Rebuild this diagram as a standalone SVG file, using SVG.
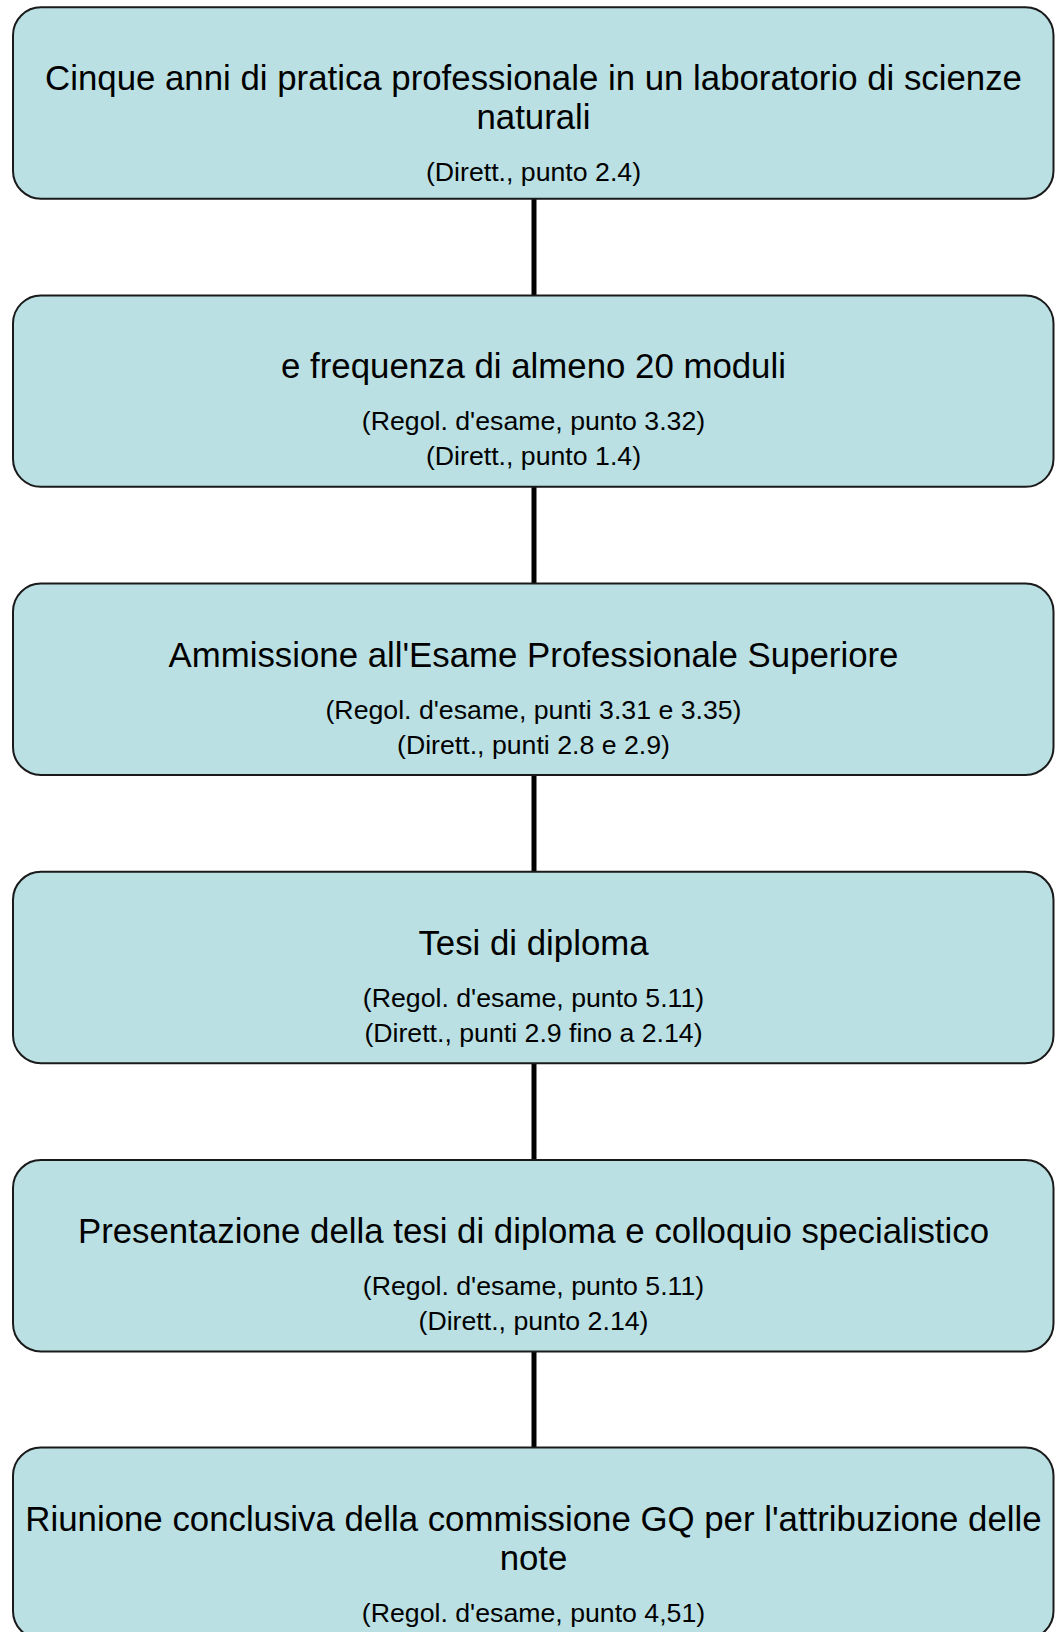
<svg xmlns="http://www.w3.org/2000/svg" width="1058" height="1632" viewBox="0 0 1058 1632">
<style>
.box{fill:#BAE0E3;stroke:#1a1a1a;stroke-width:2}
.t{font-family:"Liberation Sans",Arial,sans-serif;font-size:34.8px;fill:#000;text-anchor:middle}
.s{font-family:"Liberation Sans",Arial,sans-serif;font-size:26.7px;fill:#000;text-anchor:middle}
.c{stroke:#000;stroke-width:5;fill:none}
</style>
<rect width="1058" height="1632" fill="#fff"/>
<g id="connectors">
<line class="c" x1="534" y1="198.7" x2="534" y2="295.4"/>
<line class="c" x1="534" y1="486.8" x2="534" y2="583.6"/>
<line class="c" x1="534" y1="775" x2="534" y2="871.8"/>
<line class="c" x1="534" y1="1063.2" x2="534" y2="1160"/>
<line class="c" x1="534" y1="1351.4" x2="534" y2="1447.5"/>
</g>
<g id="node1">
<rect class="box" x="13" y="7.3" width="1040.5" height="191.4" rx="28"/>
<text class="t" x="533.5" y="90.3">Cinque anni di pratica professionale in un laboratorio di scienze</text>
<text class="t" x="533.5" y="129.3">naturali</text>
<text class="s" x="533.5" y="181.3">(Dirett., punto 2.4)</text>
</g>
<g id="node2">
<rect class="box" x="13" y="295.4" width="1040.5" height="191.4" rx="28"/>
<text class="t" x="533.5" y="378.4">e frequenza di almeno 20 moduli</text>
<text class="s" x="533.5" y="430.4">(Regol. d'esame, punto 3.32)</text>
<text class="s" x="533.5" y="465.4">(Dirett., punto 1.4)</text>
</g>
<g id="node3">
<rect class="box" x="13" y="583.6" width="1040.5" height="191.4" rx="28"/>
<text class="t" x="533.5" y="666.6">Ammissione all'Esame Professionale Superiore</text>
<text class="s" x="533.5" y="718.6">(Regol. d'esame, punti 3.31 e 3.35)</text>
<text class="s" x="533.5" y="753.6">(Dirett., punti 2.8 e 2.9)</text>
</g>
<g id="node4">
<rect class="box" x="13" y="871.8" width="1040.5" height="191.4" rx="28"/>
<text class="t" x="533.5" y="954.8">Tesi di diploma</text>
<text class="s" x="533.5" y="1006.8">(Regol. d'esame, punto 5.11)</text>
<text class="s" x="533.5" y="1041.8">(Dirett., punti 2.9 fino a 2.14)</text>
</g>
<g id="node5">
<rect class="box" x="13" y="1160" width="1040.5" height="191.4" rx="28"/>
<text class="t" x="533.5" y="1243">Presentazione della tesi di diploma e colloquio specialistico</text>
<text class="s" x="533.5" y="1295">(Regol. d'esame, punto 5.11)</text>
<text class="s" x="533.5" y="1330">(Dirett., punto 2.14)</text>
</g>
<g id="node6">
<rect class="box" x="13" y="1447.5" width="1040.5" height="191.4" rx="28"/>
<text class="t" x="533.5" y="1530.5">Riunione conclusiva della commissione GQ per l'attribuzione delle</text>
<text class="t" x="533.5" y="1569.5">note</text>
<text class="s" x="533.5" y="1621.5">(Regol. d'esame, punto 4,51)</text>
</g>
</svg>
